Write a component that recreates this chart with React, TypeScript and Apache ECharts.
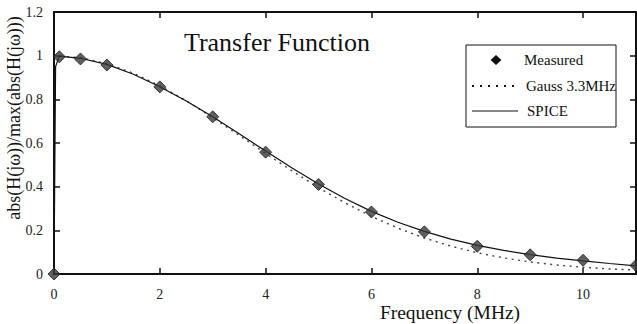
import React, { useEffect, useRef } from "react";
import * as echarts from "echarts";

const measuredX = [0, 0.1, 0.5, 1, 2, 3, 4, 5, 6, 7, 8, 9, 10, 11];
const measuredY = [0, 0.995, 0.985, 0.957, 0.857, 0.72, 0.558, 0.41, 0.284, 0.193, 0.127, 0.088, 0.063, 0.039];

const gaussX = [0, 0.5, 1, 1.5, 2, 2.5, 3, 3.5, 4, 4.5, 5, 5.5, 6, 6.5, 7, 7.5, 8, 8.5, 9, 9.5, 10, 10.5, 11];
const gaussY = [1, 0.991, 0.963, 0.92, 0.862, 0.793, 0.716, 0.635, 0.552, 0.472, 0.395, 0.326, 0.264, 0.21, 0.165, 0.128, 0.097, 0.074, 0.055, 0.041, 0.031, 0.023, 0.018];

const spiceX = [0, 0.03, 0.1, 0.5, 1, 1.5, 2, 2.5, 3, 3.5, 4, 4.5, 5, 5.5, 6, 6.5, 7, 7.5, 8, 8.5, 9, 9.5, 10, 10.5, 11];
const spiceY = [0, 0.95, 0.998, 0.988, 0.96, 0.915, 0.858, 0.792, 0.72, 0.642, 0.563, 0.485, 0.412, 0.346, 0.287, 0.237, 0.195, 0.16, 0.131, 0.108, 0.089, 0.073, 0.06, 0.048, 0.037];

const legendLabels = ["Measured", "Gauss 3.3MHz", "SPICE"];
const titleText = "Transfer Function";
const xName = "Frequency (MHz)";
const yName = "abs(H(jω))/max(abs(H(jω)))";

const FONT = "Liberation Serif";

export default function App() {
  const ref = useRef<HTMLDivElement>(null);
  useEffect(() => {
    if (!ref.current) return;
    const chart = echarts.init(ref.current, null, { renderer: "svg" });
    const axisLine = { show: true, onZero: false, lineStyle: { color: "#111", width: 2 } };
    const axisTick = { show: true, inside: true, length: 6, lineStyle: { color: "#111", width: 1.5 } };
    const pair = (xs: number[], ys: number[]) => xs.map((x, i) => [x, ys[i]]);
    chart.setOption({
      animation: false,
      backgroundColor: "#fff",
      textStyle: { fontFamily: FONT },
      grid: { left: 54, right: 1, top: 12, bottom: 50, containLabel: false },
      xAxis: [
        {
          type: "value", min: 0, max: 11, interval: 2, position: "bottom",
          axisLine, axisTick, splitLine: { show: false },
          axisLabel: { color: "#222", fontSize: 14, fontFamily: FONT, margin: 13, showMaxLabel: false },
        },
        {
          type: "value", min: 0, max: 11, interval: 2, position: "top",
          axisLine, axisTick, splitLine: { show: false }, axisLabel: { show: false },
        },
      ],
      yAxis: [
        {
          type: "value", min: 0, max: 1.2, interval: 0.2, position: "left",
          axisLine, axisTick, splitLine: { show: false },
          axisLabel: { color: "#222", fontSize: 14, fontFamily: FONT, margin: 11 },
        },
        {
          type: "value", min: 0, max: 1.2, interval: 0.2, position: "right",
          axisLine, axisTick, splitLine: { show: false }, axisLabel: { show: false },
        },
      ],
      series: [
        {
          name: legendLabels[1], type: "line", data: pair(gaussX, gaussY), showSymbol: false, symbol: "none",
          lineStyle: { color: "#444", width: 1.4, type: [2, 4.5] }, z: 2,
        },
        {
          name: legendLabels[2], type: "line", data: pair(spiceX, spiceY), showSymbol: false, symbol: "none",
          lineStyle: { color: "#111", width: 1.2 }, z: 3,
        },
        {
          name: legendLabels[0], type: "scatter", data: pair(measuredX, measuredY), symbol: "diamond",
          symbolSize: 12, clip: false,
          itemStyle: { color: "#383838", borderColor: "#1a1a1a", borderWidth: 1 }, z: 4,
        },
      ],
      graphic: [
        {
          type: "text", x: 277, y: 42,
          style: { text: titleText, fontSize: 26, fontFamily: FONT, fill: "#111", textAlign: "center", textVerticalAlign: "middle" },
        },
        {
          type: "text", x: 450, y: 312,
          style: { text: xName, fontSize: 19.5, fontFamily: FONT, fill: "#111", textAlign: "center", textVerticalAlign: "middle" },
        },
        {
          type: "text", x: 14, y: 118, rotation: Math.PI / 2,
          style: { text: yName, fontSize: 18, fontFamily: FONT, fill: "#111", textAlign: "center", textVerticalAlign: "middle" },
        },
        {
          type: "rect", shape: { x: 466, y: 45, width: 150, height: 82 },
          style: { fill: "#fff", stroke: "#111", lineWidth: 1 }, z: 10,
        },
        {
          type: "polygon", shape: { points: [[496, 55], [501.5, 60], [496, 65], [490.5, 60]] },
          style: { fill: "#111" }, z: 11,
        },
        {
          type: "line", shape: { x1: 472, y1: 86, x2: 518, y2: 86 },
          style: { stroke: "#111", lineWidth: 2, lineDash: [2, 6] }, z: 11,
        },
        {
          type: "line", shape: { x1: 472, y1: 111, x2: 518, y2: 111 },
          style: { stroke: "#111", lineWidth: 1 }, z: 11,
        },
        {
          type: "text", x: 524, y: 60, z: 11,
          style: { text: legendLabels[0], fontSize: 15, fontFamily: FONT, fill: "#111", textVerticalAlign: "middle" },
        },
        {
          type: "text", x: 526, y: 86, z: 11,
          style: { text: legendLabels[1], fontSize: 15, fontFamily: FONT, fill: "#111", textVerticalAlign: "middle" },
        },
        {
          type: "text", x: 527, y: 111, z: 11,
          style: { text: legendLabels[2], fontSize: 15, fontFamily: FONT, fill: "#111", textVerticalAlign: "middle" },
        },
      ],
    });
    return () => chart.dispose();
  }, []);
  return (
    <div
      ref={ref}
      style={{ position: "fixed", left: 0, top: 0, width: 637, height: 324, background: "#fff" }}
    />
  );
}
